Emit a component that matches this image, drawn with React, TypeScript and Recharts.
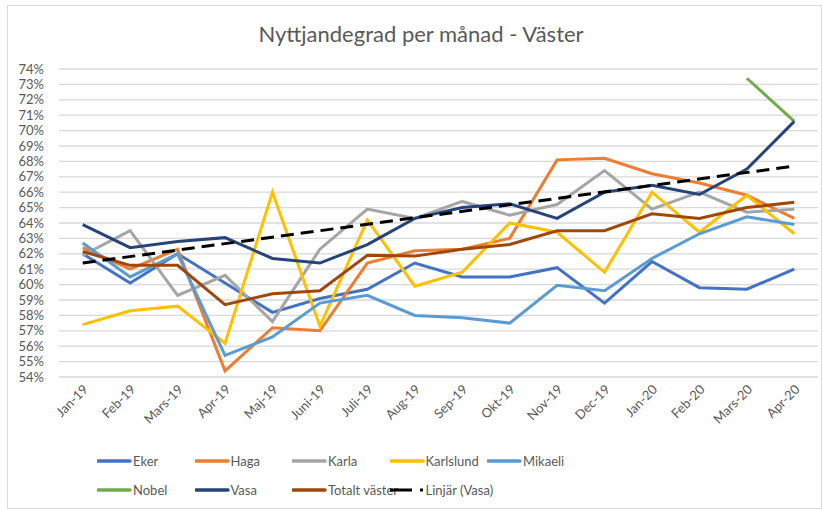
import React from 'react'
import { LineChart, Line, XAxis, YAxis, CartesianGrid } from 'recharts'

const months = [
  'Jan-19', 'Feb-19', 'Mars-19', 'Apr-19', 'Maj-19', 'Juni-19', 'Juli-19', 'Aug-19',
  'Sep-19', 'Okt-19', 'Nov-19', 'Dec-19', 'Jan-20', 'Feb-20', 'Mars-20', 'Apr-20',
]

const eker = [62.0, 60.1, 62.0, 60.1, 58.2, 59.1, 59.7, 61.4, 60.5, 60.5, 61.1, 58.8, 61.5, 59.8, 59.7, 61.0]
const haga = [62.4, 61.0, 62.3, 54.4, 57.2, 57.0, 61.4, 62.2, 62.3, 63.0, 68.1, 68.2, 67.2, 66.6, 65.8, 64.3]
const karla = [61.9, 63.5, 59.3, 60.6, 57.6, 62.3, 64.9, 64.3, 65.4, 64.5, 65.2, 67.4, 64.9, 66.0, 64.7, 64.9]
const karlslund = [57.4, 58.3, 58.6, 56.2, 66.0, 57.3, 64.2, 59.9, 60.8, 64.0, 63.4, 60.8, 66.0, 63.4, 65.8, 63.3]
const mikaeli = [62.7, 60.5, 62.0, 55.4, 56.6, 58.8, 59.3, 58.0, 57.85, 57.5, 59.95, 59.6, 61.7, 63.3, 64.4, 63.9]
const nobel = [null, null, null, null, null, null, null, null, null, null, null, null, null, null, 73.4, 70.6]
const vasa = [63.9, 62.4, 62.8, 63.05, 61.7, 61.4, 62.6, 64.3, 65.0, 65.25, 64.3, 66.0, 66.45, 65.85, 67.5, 70.6]
const totalt = [62.15, 61.25, 61.25, 58.7, 59.4, 59.6, 61.9, 61.85, 62.3, 62.6, 63.5, 63.5, 64.6, 64.3, 65.0, 65.35]
// trend line end points, drawn straight with connectNulls
const linjarVasa = [61.4, null, null, null, null, null, null, null, null, null, null, null, null, null, null, 67.7]

const yTicks = [54, 55, 56, 57, 58, 59, 60, 61, 62, 63, 64, 65, 66, 67, 68, 69, 70, 71, 72, 73, 74]

const series = [
  { key: 'Eker', values: eker, color: '#4472C4' },
  { key: 'Haga', values: haga, color: '#ED7D31' },
  { key: 'Karla', values: karla, color: '#A5A5A5' },
  { key: 'Karlslund', values: karlslund, color: '#FFC000' },
  { key: 'Mikaeli', values: mikaeli, color: '#5B9BD5' },
  { key: 'Nobel', values: nobel, color: '#70AD47' },
  { key: 'Vasa', values: vasa, color: '#264478' },
  { key: 'Totalt väster', values: totalt, color: '#9E480E' },
]

const data = months.map((month, i) => {
  const row: Record<string, string | number | null> = { month, trend: linjarVasa[i] }
  series.forEach(s => { row[s.key] = s.values[i] })
  return row
})

const FONT = 'Lato, "Open Sans", sans-serif'
const TEXT = '#595959'

function MonthTick({ x, y, payload }: any) {
  return (
    <g transform={`translate(${x + 3},${y + 10})`}>
      <text textAnchor="end" dy="0.35em" transform="rotate(-45)" fill={TEXT} fontSize={13} fontFamily={FONT}>
        {payload.value}
      </text>
    </g>
  )
}

function LegendItem({ label, color, dashed, left, top }: any) {
  return (
    <div style={{ position: 'absolute', left, top, display: 'flex', alignItems: 'center', height: 18 }}>
      <svg width={36} height={6} style={{ display: 'block' }}>
        {dashed ? (
          <line x1={0} y1={3} x2={34} y2={3} stroke="#000" strokeWidth={3} strokeDasharray="22 8 3 10" />
        ) : (
          <line x1={1} y1={3} x2={33} y2={3} stroke={color} strokeWidth={3.5} strokeLinecap="round" />
        )}
      </svg>
      <span style={{ fontSize: 13, color: TEXT, fontFamily: FONT, whiteSpace: 'nowrap' }}>{label}</span>
    </div>
  )
}

export default function App() {
  const legendItems = [
    ...series.map(s => ({ label: s.key, color: s.color, dashed: false })),
    { label: 'Linjär (Vasa)', color: '#000', dashed: true },
  ]
  return (
    <div style={{ position: 'absolute', left: 0, top: 0, width: 822, height: 509, background: '#fff', fontFamily: FONT }}>
      <div style={{ position: 'absolute', left: 7, top: 5, width: 813, height: 502, border: '1px solid #d9d9d9' }} />
      <div style={{ position: 'absolute', left: 0, top: 20, width: 842, textAlign: 'center', fontSize: 22, color: TEXT }}>
        Nyttjandegrad per månad - Väster
      </div>
      <div style={{ position: 'absolute', left: 0, top: 0 }}>
        <LineChart width={822} height={509} data={data} margin={{ top: 69, right: 4, left: 8, bottom: 0 }}>
          <CartesianGrid vertical={false} stroke="#d9d9d9" strokeWidth={1.3} />
          <XAxis
            dataKey="month"
            height={132}
            axisLine={false}
            tickLine={false}
            tickSize={0}
            tickMargin={0}
            interval={0}
            padding={{ left: 23.7, right: 23.7 }}
            tick={<MonthTick />}
          />
          <YAxis
            width={51}
            domain={[54, 74]}
            ticks={yTicks}
            interval={0}
            axisLine={false}
            tickLine={false}
            tickSize={0}
            tickMargin={15}
            tickFormatter={(v: number) => `${v}%`}
            tick={{ fill: TEXT, fontSize: 13, fontFamily: FONT }}
          />
          {series.map(s => (
            <Line
              key={s.key}
              dataKey={s.key}
              stroke={s.color}
              strokeWidth={3}
              dot={false}
              type="linear"
              isAnimationActive={false}
            />
          ))}
          <Line
            dataKey="trend"
            stroke="#000"
            strokeWidth={3}
            strokeDasharray="13 7"
            dot={false}
            connectNulls
            type="linear"
            isAnimationActive={false}
          />
        </LineChart>
      </div>
      {legendItems.map((item, i) => (
        <LegendItem
          key={item.label}
          label={item.label}
          color={item.color}
          dashed={item.dashed}
          left={97 + (i % 5) * 97.5}
          top={i < 5 ? 452 : 481}
        />
      ))}
    </div>
  )
}
